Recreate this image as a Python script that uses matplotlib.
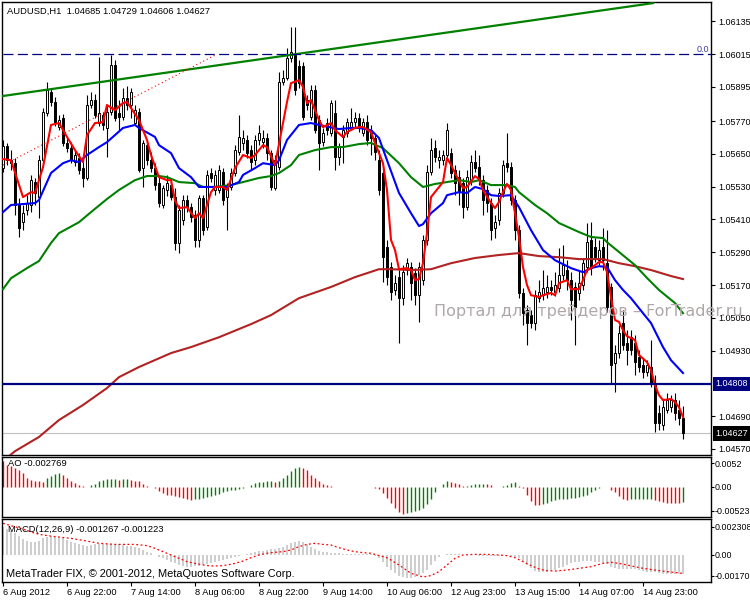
import numpy as np
import matplotlib
matplotlib.use("Agg")
import matplotlib.pyplot as plt
from matplotlib.transforms import blended_transform_factory

plt.rcParams['font.family'] = ['Liberation Sans', 'DejaVu Sans']
plt.rcParams['axes.unicode_minus'] = False

# ---- AUDUSD H1 candles (bar 0 = 6 Aug 2012 00:00) ----
opens = [1.05598, 1.05679, 1.05627, 1.05616, 1.05463, 1.05401, 1.05444, 1.05463, 1.05547, 1.05492,
         1.05627, 1.05799, 1.05877, 1.05840, 1.05748, 1.05781, 1.05690, 1.05672, 1.05620, 1.05634,
         1.05598, 1.05562, 1.05829, 1.05847, 1.05763, 1.05792, 1.05745, 1.05803, 1.05975, 1.05799,
         1.05784, 1.05855, 1.05829, 1.05763, 1.05803, 1.05598, 1.05683, 1.05627, 1.05598, 1.05543,
         1.05463, 1.05518, 1.05536, 1.05492, 1.05324, 1.05408, 1.05481, 1.05455, 1.05426, 1.05335,
         1.05489, 1.05382, 1.05580, 1.05518, 1.05518, 1.05584, 1.05492, 1.05528, 1.05580, 1.05657,
         1.05690, 1.05701, 1.05664, 1.05627, 1.05701, 1.05694, 1.05708, 1.05653, 1.05525, 1.05601,
         1.05913, 1.05927, 1.06001, 1.06012, 1.05970, 1.05970, 1.05847, 1.05784, 1.05884, 1.05774,
         1.05694, 1.05763, 1.05726, 1.05799, 1.05638, 1.05711, 1.05726, 1.05748, 1.05767, 1.05781,
         1.05726, 1.05767, 1.05737, 1.05708, 1.05627, 1.05580, 1.05309, 1.05235, 1.05152, 1.05199,
         1.05122, 1.05225, 1.05235, 1.05214, 1.05133, 1.05188, 1.05335, 1.05584, 1.05672, 1.05627,
         1.05627, 1.05646, 1.05653, 1.05591, 1.05565, 1.05543, 1.05455, 1.05554, 1.05620, 1.05601,
         1.05554, 1.05518, 1.05470, 1.05379, 1.05408, 1.05507, 1.05616, 1.05601, 1.05481, 1.05371,
         1.05141, 1.05078, 1.05060, 1.05031, 1.05122, 1.05133, 1.05144, 1.05163, 1.05144, 1.05159,
         1.05206, 1.05225, 1.05188, 1.05163, 1.05141, 1.05170, 1.05235, 1.05335, 1.05309, 1.05261,
         1.05309, 1.05250, 1.05163, 1.04884, 1.04921, 1.05031, 1.04958, 1.04980, 1.04958, 1.04906,
         1.04877, 1.04852, 1.04870, 1.04811, 1.04701, 1.04658, 1.04712, 1.04723, 1.04749, 1.04712,
         1.04685]
highs = [1.05701, 1.05690, 1.05664, 1.05634, 1.05489, 1.05463, 1.05500, 1.05573, 1.05562, 1.05646,
         1.05818, 1.05913, 1.05891, 1.05858, 1.05792, 1.05795, 1.05708, 1.05694, 1.05664, 1.05653,
         1.05627, 1.05866, 1.05877, 1.05869, 1.06004, 1.05803, 1.05825, 1.06012, 1.05993, 1.05847,
         1.05891, 1.05898, 1.05891, 1.05829, 1.05818, 1.05701, 1.05701, 1.05657, 1.05616, 1.05573,
         1.05536, 1.05573, 1.05554, 1.05525, 1.05463, 1.05500, 1.05500, 1.05470, 1.05444, 1.05500,
         1.05500, 1.05591, 1.05598, 1.05591, 1.05609, 1.05598, 1.05543, 1.05598, 1.05683, 1.05792,
         1.05737, 1.05719, 1.05683, 1.05719, 1.05756, 1.05737, 1.05726, 1.05664, 1.05646, 1.05950,
         1.05957, 1.06037, 1.06114, 1.06114, 1.05993, 1.05986, 1.05866, 1.05902, 1.05902, 1.05792,
         1.05745, 1.05781, 1.05847, 1.05847, 1.05690, 1.05756, 1.05781, 1.05818, 1.05803, 1.05799,
         1.05781, 1.05792, 1.05756, 1.05719, 1.05664, 1.05609, 1.05335, 1.05254, 1.05206, 1.05225,
         1.05243, 1.05269, 1.05254, 1.05232, 1.05254, 1.05353, 1.05609, 1.05708, 1.05701, 1.05664,
         1.05664, 1.05763, 1.05672, 1.05609, 1.05591, 1.05562, 1.05591, 1.05646, 1.05664, 1.05646,
         1.05573, 1.05536, 1.05489, 1.05426, 1.05525, 1.05627, 1.05726, 1.05620, 1.05500, 1.05390,
         1.05159, 1.05097, 1.05078, 1.05152, 1.05188, 1.05225, 1.05206, 1.05188, 1.05218, 1.05305,
         1.05316, 1.05261, 1.05218, 1.05181, 1.05225, 1.05269, 1.05397, 1.05401, 1.05342, 1.05335,
         1.05379, 1.05371, 1.05177, 1.04950, 1.05023, 1.05078, 1.05005, 1.05005, 1.04987, 1.04932,
         1.04903, 1.04895, 1.04969, 1.04841, 1.04731, 1.04749, 1.04775, 1.04767, 1.04775, 1.04749,
         1.04729]
lows = [1.05584, 1.05609, 1.05591, 1.05426, 1.05345, 1.05371, 1.05426, 1.05437, 1.05463, 1.05415,
        1.05616, 1.05788, 1.05825, 1.05752, 1.05737, 1.05679, 1.05657, 1.05616, 1.05605, 1.05576,
        1.05528, 1.05554, 1.05818, 1.05781, 1.05752, 1.05737, 1.05638, 1.05792, 1.05770, 1.05737,
        1.05774, 1.05810, 1.05781, 1.05756, 1.05584, 1.05528, 1.05609, 1.05584, 1.05518, 1.05455,
        1.05452, 1.05496, 1.05481, 1.05298, 1.05287, 1.05390, 1.05437, 1.05401, 1.05309, 1.05309,
        1.05353, 1.05371, 1.05547, 1.05500, 1.05507, 1.05463, 1.05371, 1.05518, 1.05569, 1.05646,
        1.05664, 1.05634, 1.05591, 1.05609, 1.05683, 1.05672, 1.05627, 1.05518, 1.05518, 1.05591,
        1.05902, 1.05920, 1.05986, 1.05866, 1.05891, 1.05774, 1.05810, 1.05774, 1.05726, 1.05591,
        1.05679, 1.05719, 1.05715, 1.05591, 1.05609, 1.05616, 1.05711, 1.05737, 1.05748, 1.05730,
        1.05715, 1.05683, 1.05646, 1.05627, 1.05500, 1.05181, 1.05170, 1.05115, 1.05133, 1.04959,
        1.05097, 1.05206, 1.05115, 1.05097, 1.05034, 1.05170, 1.05316, 1.05573, 1.05620, 1.05598,
        1.05609, 1.05634, 1.05562, 1.05500, 1.05463, 1.05415, 1.05444, 1.05536, 1.05584, 1.05536,
        1.05426, 1.05437, 1.05335, 1.05342, 1.05390, 1.05492, 1.05584, 1.05463, 1.05335, 1.05122,
        1.05023, 1.04950, 1.05012, 1.05005, 1.05108, 1.05115, 1.05122, 1.05133, 1.05130, 1.05144,
        1.05188, 1.05152, 1.05042, 1.04950, 1.05115, 1.05152, 1.05218, 1.05206, 1.05254, 1.05243,
        1.05225, 1.05071, 1.04808, 1.04778, 1.04903, 1.04932, 1.04877, 1.04914, 1.04841, 1.04852,
        1.04830, 1.04837, 1.04797, 1.04632, 1.04639, 1.04639, 1.04701, 1.04705, 1.04676, 1.04658,
        1.04606]
closes = [1.05679, 1.05627, 1.05616, 1.05463, 1.05379, 1.05433, 1.05470, 1.05554, 1.05507, 1.05627,
          1.05803, 1.05884, 1.05840, 1.05767, 1.05774, 1.05690, 1.05672, 1.05627, 1.05646, 1.05591,
          1.05562, 1.05829, 1.05847, 1.05792, 1.05799, 1.05756, 1.05803, 1.05975, 1.05781, 1.05784,
          1.05855, 1.05829, 1.05877, 1.05810, 1.05591, 1.05690, 1.05627, 1.05598, 1.05536, 1.05470,
          1.05525, 1.05543, 1.05492, 1.05324, 1.05444, 1.05481, 1.05455, 1.05418, 1.05335, 1.05489,
          1.05371, 1.05573, 1.05562, 1.05573, 1.05591, 1.05481, 1.05528, 1.05580, 1.05664, 1.05711,
          1.05708, 1.05653, 1.05620, 1.05701, 1.05726, 1.05708, 1.05653, 1.05528, 1.05627, 1.05913,
          1.05927, 1.06001, 1.06023, 1.05884, 1.05909, 1.05784, 1.05829, 1.05884, 1.05737, 1.05690,
          1.05726, 1.05737, 1.05836, 1.05638, 1.05675, 1.05737, 1.05767, 1.05767, 1.05781, 1.05748,
          1.05767, 1.05701, 1.05708, 1.05657, 1.05518, 1.05272, 1.05199, 1.05144, 1.05177, 1.05122,
          1.05218, 1.05250, 1.05177, 1.05133, 1.05235, 1.05335, 1.05584, 1.05664, 1.05638, 1.05638,
          1.05646, 1.05737, 1.05580, 1.05543, 1.05510, 1.05455, 1.05565, 1.05620, 1.05598, 1.05554,
          1.05481, 1.05470, 1.05371, 1.05401, 1.05507, 1.05609, 1.05601, 1.05481, 1.05371, 1.05141,
          1.05067, 1.05031, 1.05031, 1.05133, 1.05144, 1.05159, 1.05163, 1.05152, 1.05170, 1.05206,
          1.05243, 1.05188, 1.05115, 1.05089, 1.05177, 1.05250, 1.05327, 1.05232, 1.05272, 1.05298,
          1.05261, 1.05089, 1.04877, 1.04921, 1.04994, 1.04950, 1.04932, 1.04932, 1.04888, 1.04870,
          1.04852, 1.04877, 1.04811, 1.04665, 1.04665, 1.04723, 1.04749, 1.04749, 1.04701, 1.04683,
          1.04627]

# ---- moving averages (bar index, price) ----
fast_idx = [0, 2, 5, 7, 8, 10, 12, 14, 16, 18, 20, 21, 23, 25, 26, 28, 30, 31, 32, 34,
            36, 37, 39, 41, 42, 43, 44, 46, 48, 49, 50, 52, 53, 55, 56, 58, 60, 62, 63, 65,
            66, 68, 70, 71, 72, 74, 75, 76, 77, 79, 80, 82, 83, 85, 86, 88, 89, 90, 92, 93,
            95, 96, 97, 98, 99, 101, 102, 103, 104, 105, 106, 107, 110, 111, 112, 113, 115, 116, 118, 119,
            120, 122, 123, 124, 125, 126, 127, 128, 129, 130, 131, 132, 134, 135, 137, 138, 139, 141, 142, 144,
            145, 146, 147, 149, 150, 151, 152, 153, 154, 155, 156, 158, 159, 161, 162, 163, 164, 165, 167, 168,
            169, 170]
fast_ma = [1.05631, 1.05627, 1.05492, 1.05510, 1.05507, 1.05601, 1.05756, 1.05763, 1.05712, 1.05664,
           1.05620, 1.05719, 1.05763, 1.05766, 1.05829, 1.05810, 1.05836, 1.05840, 1.05818, 1.05774,
           1.05701, 1.05646, 1.05565, 1.05554, 1.05554, 1.05480, 1.05452, 1.05455, 1.05415, 1.05433,
           1.05415, 1.05510, 1.05529, 1.05529, 1.05518, 1.05598, 1.05646, 1.05635, 1.05646, 1.05682,
           1.05675, 1.05609, 1.05763, 1.05840, 1.05909, 1.05920, 1.05895, 1.05836, 1.05847, 1.05774,
           1.05748, 1.05763, 1.05737, 1.05712, 1.05730, 1.05745, 1.05748, 1.05748, 1.05730, 1.05690,
           1.05616, 1.05518, 1.05335, 1.05298, 1.05228, 1.05232, 1.05225, 1.05188, 1.05192, 1.05250,
           1.05360, 1.05492, 1.05547, 1.05635, 1.05610, 1.05580, 1.05525, 1.05529, 1.05569, 1.05558,
           1.05518, 1.05470, 1.05452, 1.05474, 1.05510, 1.05540, 1.05518, 1.05433, 1.05346, 1.05236,
           1.05170, 1.05133, 1.05126, 1.05133, 1.05141, 1.05133, 1.05177, 1.05188, 1.05155, 1.05155,
           1.05188, 1.05225, 1.05232, 1.05254, 1.05254, 1.05218, 1.05126, 1.05042, 1.05035, 1.05005,
           1.04983, 1.04969, 1.04914, 1.04888, 1.04859, 1.04804, 1.04767, 1.04749, 1.04753, 1.04742,
           1.04723, 1.04687]

mid_idx = [0, 2, 8, 9, 12, 15, 17, 19, 21, 24, 26, 28, 30, 33, 34, 38, 39, 42, 44, 47,
           49, 53, 56, 59, 60, 63, 65, 68, 69, 71, 74, 77, 79, 84, 87, 89, 92, 94, 96, 99,
           102, 104, 105, 107, 110, 111, 114, 116, 118, 120, 122, 124, 127, 129, 132, 135, 138, 142, 145, 147,
           149, 151, 153, 155, 157, 160, 162, 165, 167, 170]
mid_ma = [1.05437, 1.05463, 1.05470, 1.05481, 1.05580, 1.05616, 1.05627, 1.05620, 1.05646, 1.05675,
          1.05693, 1.05719, 1.05745, 1.05756, 1.05745, 1.05712, 1.05682, 1.05653, 1.05598, 1.05565,
          1.05529, 1.05529, 1.05529, 1.05547, 1.05573, 1.05598, 1.05616, 1.05609, 1.05627, 1.05701,
          1.05756, 1.05763, 1.05756, 1.05741, 1.05745, 1.05745, 1.05737, 1.05708, 1.05627, 1.05507,
          1.05433, 1.05386, 1.05393, 1.05433, 1.05470, 1.05499, 1.05510, 1.05507, 1.05529, 1.05521,
          1.05499, 1.05496, 1.05499, 1.05455, 1.05371, 1.05298, 1.05261, 1.05232, 1.05217, 1.05232,
          1.05239, 1.05236, 1.05188, 1.05152, 1.05122, 1.05067, 1.05031, 1.04943, 1.04895, 1.04848]

slow_idx = [0, 2, 6, 9, 12, 14, 19, 22, 26, 29, 33, 36, 39, 41, 44, 48, 50, 53, 57, 60,
            64, 67, 69, 72, 74, 78, 82, 85, 89, 92, 95, 99, 102, 105, 108, 111, 114, 117, 119, 122,
            126, 128, 129, 133, 136, 139, 144, 147, 150, 151, 154, 158, 161, 164, 168, 170]
slow_ma = [1.05155, 1.05195, 1.05232, 1.05258, 1.05324, 1.05360, 1.05400, 1.05437, 1.05485, 1.05518,
           1.05554, 1.05569, 1.05569, 1.05565, 1.05547, 1.05543, 1.05529, 1.05529, 1.05536, 1.05547,
           1.05562, 1.05569, 1.05580, 1.05609, 1.05646, 1.05664, 1.05675, 1.05675, 1.05686, 1.05690,
           1.05671, 1.05616, 1.05565, 1.05529, 1.05540, 1.05547, 1.05554, 1.05547, 1.05554, 1.05536,
           1.05536, 1.05529, 1.05510, 1.05463, 1.05433, 1.05397, 1.05364, 1.05346, 1.05342, 1.05327,
           1.05291, 1.05243, 1.05196, 1.05152, 1.05104, 1.05067]

long_idx = [0, 3, 9, 14, 20, 26, 29, 34, 42, 47, 54, 62, 67, 74, 82, 88, 94, 97, 102, 107,
            112, 118, 124, 129, 134, 139, 144, 150, 154, 158, 162, 167, 170]
long_ma = [1.04526, 1.04562, 1.04614, 1.04676, 1.04731, 1.04793, 1.04833, 1.04870, 1.04921, 1.04943,
           1.04979, 1.05027, 1.05060, 1.05122, 1.05163, 1.05199, 1.05228, 1.05228, 1.05225, 1.05228,
           1.05250, 1.05269, 1.05280, 1.05287, 1.05276, 1.05272, 1.05265, 1.05265, 1.05250, 1.05239,
           1.05225, 1.05203, 1.05192]

# ---- chart objects ----
trend_idx = [0, 162.5]
trend_price = [1.05862, 1.06202]
fibo_idx = [0, 53.5]
fibo_price = [1.05609, 1.06015]
fibo_level = 1.06015
hline_level = 1.04808
bid_level = 1.04627

# ---- Awesome Oscillator ----
ao = [0.00562, 0.00489, 0.00453, 0.00416, 0.00380, 0.00307, 0.00197, 0.00161, 0.00139, 0.00124,
      0.00117, 0.00197, 0.00248, 0.00292, 0.00307, 0.00270, 0.00197, 0.00139, 0.00088, 0.00037,
      0.00015, 0.00004, 0.00037, 0.00066, 0.00124, 0.00161, 0.00175, 0.00183, 0.00186, 0.00161,
      0.00175, 0.00179, 0.00161, 0.00139, 0.00124, 0.00066, 0.00029, -0.00007, -0.00022, -0.00095,
      -0.00131, -0.00168, -0.00183, -0.00204, -0.00226, -0.00241, -0.00263, -0.00277, -0.00263, -0.00256,
      -0.00241, -0.00226, -0.00204, -0.00168, -0.00146, -0.00110, -0.00095, -0.00073, -0.00058, -0.00044,
      -0.00022, 0.00004, 0.00051, 0.00088, 0.00102, 0.00110, 0.00124, 0.00128, 0.00110, 0.00139,
      0.00197, 0.00256, 0.00358, 0.00416, 0.00431, 0.00416, 0.00380, 0.00270, 0.00197, 0.00139,
      0.00066, 0.00037, 0.00029, 0.00002, 0.00001, 0.00000, -0.00001, -0.00004, -0.00002, 0.00001,
      0.00004, 0.00002, -0.00004, -0.00022, -0.00044, -0.00131, -0.00241, -0.00350, -0.00460, -0.00548,
      -0.00584, -0.00569, -0.00548, -0.00533, -0.00496, -0.00460, -0.00372, -0.00263, -0.00110, 0.00004,
      0.00066, 0.00124, 0.00110, 0.00095, 0.00066, 0.00015, 0.00029, 0.00044, 0.00055, 0.00062,
      0.00069, 0.00058, 0.00037, 0.00007, 0.00001, 0.00015, 0.00051, 0.00088, 0.00102, 0.00029,
      -0.00022, -0.00168, -0.00314, -0.00387, -0.00402, -0.00372, -0.00343, -0.00314, -0.00285, -0.00270,
      -0.00256, -0.00252, -0.00241, -0.00237, -0.00226, -0.00204, -0.00168, -0.00110, -0.00058, -0.00022,
      -0.00007, -0.00004, -0.00058, -0.00117, -0.00204, -0.00263, -0.00292, -0.00263, -0.00261, -0.00260,
      -0.00257, -0.00255, -0.00254, -0.00277, -0.00314, -0.00336, -0.00343, -0.00345, -0.00347, -0.00350,
      -0.00329]

# ---- MACD(12,26,9) ----
macd_hist = [0.00230, 0.00211, 0.00194, 0.00176, 0.00157, 0.00130, 0.00113, 0.00103, 0.00103, 0.00113,
             0.00135, 0.00149, 0.00154, 0.00149, 0.00140, 0.00135, 0.00122, 0.00108, 0.00095, 0.00086,
             0.00081, 0.00076, 0.00081, 0.00086, 0.00088, 0.00090, 0.00089, 0.00087, 0.00088, 0.00086,
             0.00081, 0.00076, 0.00075, 0.00068, 0.00054, 0.00041, 0.00027, 0.00014, 0.00001, -0.00014,
             -0.00027, -0.00041, -0.00054, -0.00068, -0.00081, -0.00086, -0.00095, -0.00096, -0.00089, -0.00086,
             -0.00081, -0.00076, -0.00068, -0.00054, -0.00049, -0.00041, -0.00032, -0.00027, -0.00016, -0.00008,
             0.00000, 0.00011, 0.00019, 0.00027, 0.00032, 0.00035, 0.00041, 0.00046, 0.00046, 0.00054,
             0.00068, 0.00081, 0.00095, 0.00108, 0.00113, 0.00103, 0.00086, 0.00068, 0.00049, 0.00035,
             0.00027, 0.00022, 0.00019, 0.00016, 0.00014, 0.00011, 0.00011, 0.00010, 0.00008, 0.00008,
             0.00008, 0.00005, 0.00005, -0.00008, -0.00027, -0.00054, -0.00095, -0.00122, -0.00149, -0.00167,
             -0.00176, -0.00184, -0.00183, -0.00176, -0.00162, -0.00149, -0.00122, -0.00081, -0.00049, -0.00014,
             0.00000, 0.00011, 0.00011, 0.00008, 0.00005, 0.00001, 0.00000, -0.00003, -0.00003, -0.00005,
             -0.00005, -0.00006, -0.00008, -0.00008, -0.00005, -0.00003, 0.00000, -0.00005, -0.00014, -0.00027,
             -0.00054, -0.00081, -0.00108, -0.00130, -0.00140, -0.00141, -0.00135, -0.00130, -0.00122, -0.00108,
             -0.00095, -0.00081, -0.00068, -0.00059, -0.00054, -0.00049, -0.00048, -0.00049, -0.00054, -0.00059,
             -0.00068, -0.00076, -0.00095, -0.00108, -0.00116, -0.00117, -0.00113, -0.00114, -0.00116, -0.00122,
             -0.00130, -0.00135, -0.00136, -0.00140, -0.00149, -0.00154, -0.00154, -0.00155, -0.00154, -0.00155,
             -0.00157]
signal_idx = [0, 2, 5, 8, 10, 13, 17, 21, 24, 28, 33, 36, 38, 40, 42, 44, 46, 48, 50, 52,
              54, 56, 58, 60, 62, 64, 66, 68, 70, 72, 74, 76, 78, 80, 82, 84, 86, 88, 90, 92,
              93, 96, 99, 102, 105, 107, 109, 111, 113, 115, 118, 121, 124, 126, 128, 130, 132, 134, 136, 138,
              141, 144, 147, 150, 152, 154, 156, 158, 160, 163, 166, 170]
signal = [0.00257, 0.00238, 0.00211, 0.00176, 0.00162, 0.00149, 0.00135, 0.00113, 0.00095, 0.00086,
          0.00086, 0.00076, 0.00054, 0.00027, 0.00000, -0.00027, -0.00054, -0.00068, -0.00081, -0.00089,
          -0.00089, -0.00081, -0.00068, -0.00049, -0.00022, 0.00000, 0.00014, 0.00022, 0.00027, 0.00041,
          0.00068, 0.00086, 0.00095, 0.00086, 0.00081, 0.00059, 0.00041, 0.00027, 0.00019, 0.00014,
          0.00005, -0.00022, -0.00081, -0.00149, -0.00178, -0.00167, -0.00135, -0.00081, -0.00027, 0.00000,
          0.00005, 0.00005, 0.00000, -0.00005, -0.00022, -0.00054, -0.00086, -0.00113, -0.00127, -0.00130,
          -0.00122, -0.00108, -0.00095, -0.00068, -0.00059, -0.00068, -0.00081, -0.00095, -0.00108, -0.00122,
          -0.00135, -0.00149]

# ---- axis labels ----
price_ticks = [1.06135, 1.06015, 1.05895, 1.05770, 1.05650, 1.05530, 1.05410, 1.05290,
               1.05170, 1.05050, 1.04930, 1.04690, 1.04570]
ao_ticks = [0.0052, 0.0, -0.00523]
ao_tick_labels = ['0.0052', '0.00', '-0.00523']
macd_ticks = [0.002308, 0.0, -0.00170]
macd_tick_labels = ['0.002308', '0.00', '-0.00170']
time_ticks = [0, 16, 32, 48, 64, 80, 96, 112, 128, 144, 160]
time_labels = ['6 Aug 2012', '6 Aug 22:00', '7 Aug 14:00', '8 Aug 06:00', '8 Aug 22:00',
               '9 Aug 14:00', '10 Aug 06:00', '12 Aug 23:00', '13 Aug 15:00', '14 Aug 07:00',
               '14 Aug 23:00']

W, H = 750, 600
fig = plt.figure(figsize=(7.5, 6), dpi=100)


def px_axes(x0, y0, x1, y1):
    return fig.add_axes([x0 / W, 1 - y1 / H, (x1 - x0) / W, (y1 - y0) / H])


ax1 = px_axes(2, 2, 711, 455)
ax2 = px_axes(2, 457, 711, 517)
ax3 = px_axes(2, 519, 711, 582)

x = np.arange(len(closes))
o = np.array(opens)
c = np.array(closes)
hi = np.array(highs)
lo = np.array(lows)

for ax in (ax1, ax2, ax3):
    ax.set_xlim(-0.25, 177)
    for s in ax.spines.values():
        s.set_linewidth(1)
        s.set_color('black')
    ax.yaxis.tick_right()
    ax.tick_params(axis='y', direction='out', length=3, width=0.8, pad=2, labelsize=6.5)
    ax.tick_params(axis='x', bottom=False, labelbottom=False)
# sub-window labels sit a little closer to the frame
for ax in (ax2, ax3):
    ax.tick_params(axis='y', length=2, pad=0.6, labelsize=6.4)

# ---- main price panel ----
ax1.set_ylim(1.04548, 1.06206)
ax1.vlines(x, lo, hi, color='black', lw=0.8, zorder=2)
up = c >= o
ax1.bar(x, np.abs(c - o) + 1e-6, bottom=np.minimum(o, c), width=0.62,
        color=np.where(up, 'white', 'black'), edgecolor='black', linewidth=0.7, zorder=3)

ax1.plot(long_idx, long_ma, color='#b22222', lw=1.5, zorder=4)
ax1.plot(slow_idx, slow_ma, color='#008000', lw=1.5, zorder=4)
ax1.plot(mid_idx, mid_ma, color='#0000ff', lw=1.5, zorder=5)
ax1.plot(fast_idx, fast_ma, color='#ff0000', lw=1.5, zorder=6)

ax1.plot(trend_idx, trend_price, color='#008000', lw=1.6, zorder=6)
ax1.plot(fibo_idx, fibo_price, color='#ff0000', lw=0.8, linestyle=(0, (1, 2.5)), zorder=6)
ax1.axhline(fibo_level, xmin=0.002, color='#000080', lw=0.9, linestyle=(0, (8, 3.5)), zorder=6)
ax1.axhline(hline_level, color='#000080', lw=1.6, zorder=6)
ax1.axhline(bid_level, color='#c0c0c0', lw=0.8, zorder=1)

ax1.set_yticks(price_ticks)
ax1.set_yticklabels([f'{p:.5f}' for p in price_ticks])

tr = blended_transform_factory(ax1.transAxes, ax1.transData)
ax1.text(1.006, hline_level, f'{hline_level:.5f}', transform=tr, ha='left', va='center',
         fontsize=6.5, color='white', clip_on=False,
         bbox=dict(boxstyle='square,pad=0.3', fc='#000080', ec='none'))
ax1.text(1.006, bid_level, f'{bid_level:.5f}', transform=tr, ha='left', va='center',
         fontsize=6.5, color='white', clip_on=False,
         bbox=dict(boxstyle='square,pad=0.3', fc='black', ec='none'))
ax1.text(0.997, fibo_level, '0.0', transform=tr, ha='right', va='bottom',
         fontsize=6.5, color='#3c3c9c')

ax1.text(0.007, 0.98, 'AUDUSD,H1  1.04685 1.04729 1.04606 1.04627', transform=ax1.transAxes,
         ha='left', va='center', fontsize=6.75, color='black')
ax1.text(0.609, 0.316, 'Портал для трейдеров – ForTrader.ru', transform=ax1.transAxes,
         ha='left', va='center', fontsize=11.5, color='#b0a8a8', clip_on=False, zorder=7,
         family=['DejaVu Sans'])

# ---- AO panel ----
ao_arr = np.array(ao)
ao_col = np.where(np.r_[ao_arr[0] - 1, ao_arr[:-1]] < ao_arr, '#008000', '#ff0000')
ao_col[0] = '#ff0000'
ax2.set_ylim(-0.00657, 0.00657)
ax2.vlines(x, 0, ao_arr, colors=ao_col, lw=1.0)
ax2.set_yticks(ao_ticks)
ax2.set_yticklabels(ao_tick_labels)
ax2.text(0.008, 0.9, 'AO -0.002769', transform=ax2.transAxes, ha='left', va='center',
         fontsize=6.75, color='black')

# ---- MACD panel ----
ax3.set_ylim(-0.00219, 0.00292)
ax3.vlines(x, 0, macd_hist, colors='#c0c0c0', lw=1.1)
ax3.plot(signal_idx, signal, color='#ff0000', lw=0.9, linestyle=(0, (1.5, 2)))
ax3.set_yticks(macd_ticks)
ax3.set_yticklabels(macd_tick_labels)
ax3.text(0.008, 0.84, 'MACD(12,26,9) -0.001267 -0.001223', transform=ax3.transAxes,
         ha='left', va='center', fontsize=6.75, color='black')
ax3.text(0.006, 0.13, 'MetaTrader FIX, © 2001-2012, MetaQuotes Software Corp.',
         transform=ax3.transAxes, ha='left', va='center', fontsize=7.9, color='black')

ax3.tick_params(axis='x', bottom=True, labelbottom=True, direction='out', length=3,
                width=0.8, pad=1.5, labelsize=6.7)
ax3.set_xticks(time_ticks)
ax3.set_xticklabels(time_labels, ha='left')

fig.savefig('out.png', dpi=100)
